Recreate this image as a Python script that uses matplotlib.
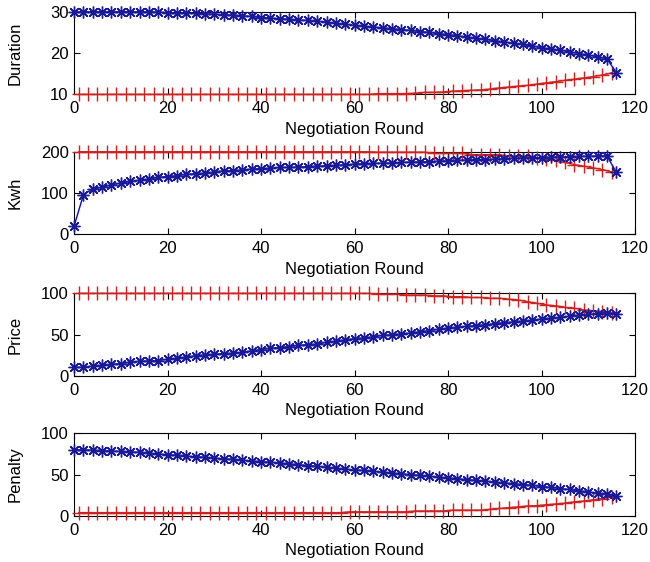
import matplotlib
matplotlib.use("Agg")
import matplotlib.pyplot as plt
import numpy as np

plt.rcParams['font.family'] = ['Liberation Sans', 'DejaVu Sans']

# Rounds: blue (consumer) offers on even rounds, red (provider) on odd rounds
blue_rounds = list(range(0, 115, 2)) + [116]
red_rounds = list(range(1, 116, 2))

duration_blue = [30, 30, 30, 30, 30, 30, 30, 30, 30, 29.9, 29.8, 29.7, 29.7, 29.6, 29.5,
                 29.4, 29.3, 29.2, 29.0, 28.9, 28.6, 28.5, 28.3, 28.2, 28.0, 27.9, 27.7,
                 27.5, 27.2, 27.0, 26.7, 26.5, 26.3, 26.1, 25.9, 25.7, 25.5, 25.2, 25.0,
                 24.7, 24.5, 24.2, 23.9, 23.6, 23.3, 23.0, 22.7, 22.4, 22.1, 21.7, 21.3,
                 21.0, 20.7, 20.3, 19.9, 19.5, 19.1, 18.6, 15.3]
duration_red = [10] * 32 + [10.2, 10.2, 10.2, 10.2, 10.3, 10.5, 10.5, 10.6, 10.8, 10.9,
                            11.0, 11.1, 11.3, 11.6, 11.8, 12.0, 12.2, 12.5, 12.8, 13.1,
                            13.4, 13.7, 14.0, 14.3, 14.7, 15.2]

kwh_blue = [20, 96, 110, 114, 120, 124, 128, 131, 134, 138, 140, 142, 145, 147, 148, 151,
            154, 154, 156, 158, 159, 160, 162, 162, 163, 164, 165, 166, 167, 168, 170,
            171, 172, 172, 173, 174, 175, 175, 176, 177, 178, 179, 180, 181, 181, 182,
            183, 184, 185, 185, 186, 187, 187, 188, 189, 189, 190, 190, 150]
kwh_red = [200] * 32 + [199, 199, 199, 199, 199, 199, 196, 196, 196, 196, 193, 193, 193,
                        193, 189, 189, 189, 186, 183, 179, 174, 169, 165, 161, 157, 151]

price_blue = [10.5, 10.5, 12, 13, 14.2, 15, 16.6, 17.8, 18.2, 18.6, 20.2, 21.5, 23, 24.5,
              25.5, 26.3, 27.1, 27.5, 28.7, 30.4, 32, 33.5, 34.4, 35.6, 37, 38, 38.5, 40.9,
              42.1, 43.7, 45.3, 46, 47.5, 49, 50, 51, 52, 53.5, 55, 56.5, 58, 59, 60, 61,
              62, 63.5, 64.5, 65.5, 66.5, 67.5, 69, 70, 71, 72.5, 73.5, 74.5, 75.5, 76.5, 75]
price_red = [100] * 32 + [99, 99, 99, 98, 98, 98, 97, 97, 96, 96, 95, 95, 94, 94, 93,
                          92, 90, 88, 86, 85, 83, 82, 80, 79, 78, 76]

penalty_blue = [80, 80, 79.5, 79, 78.5, 78, 77.5, 77, 76, 75, 74, 73.5, 72.5, 71.5, 71,
                70, 69, 68.5, 67.5, 66.5, 65.5, 65, 64, 63, 62, 61, 60, 59, 57.5, 56.5,
                55.5, 55, 54, 53, 52, 51, 50, 49, 48, 47, 46, 45, 44, 43, 42, 41, 40, 39,
                38, 37, 35.5, 34.5, 33, 32, 30.5, 29, 27.5, 26, 24]
penalty_red = [4] * 29 + [5, 5, 5, 5, 5, 5, 5, 6, 6, 6, 6, 7, 7, 7, 7, 8, 9, 10, 11,
                          12, 12.5, 13.5, 14.5, 15.5, 17, 18, 19.5, 21, 23]

panels = [
    ("Duration", duration_blue, duration_red, (10, 30), [10, 20, 30]),
    ("Kwh", kwh_blue, kwh_red, (0, 200), [0, 100, 200]),
    ("Price", price_blue, price_red, (0, 100), [0, 50, 100]),
    ("Penalty", penalty_blue, penalty_red, (0, 100), [0, 50, 100]),
]

fig = plt.figure(figsize=(6.5, 5.62), dpi=100)
left, width = 0.114, 0.863
tops = [0.979, 0.730, 0.478, 0.229]
height = 0.147

for (label, yb, yr, ylim, yticks), top in zip(panels, tops):
    ax = fig.add_axes([left, top - height, width, height])
    ax.plot(red_rounds, yr, '-', color='#cc2222', lw=1.0, marker='+', ms=9.5,
            mew=1.0, clip_on=False, zorder=3)
    ax.plot(blue_rounds, yb, '-', color='#0a0ac8', lw=1.0, marker=(8, 2, 0), ms=8.5,
            mew=1.0, mec='#1a1a96', clip_on=False, zorder=4)
    ax.set_xlim(0, 120)
    ax.set_ylim(*ylim)
    ax.set_xticks(range(0, 121, 20))
    ax.set_yticks(yticks)
    ax.tick_params(direction='in', top=True, right=True, labelsize=12, length=4)
    ax.tick_params(axis='x', pad=5)
    ax.tick_params(axis='y', pad=4)
    ax.set_xlabel("Negotiation Round", fontsize=12, labelpad=4)
    ax.set_ylabel(label, fontsize=12)
    ax.yaxis.set_label_coords(-0.092, 0.5)
    for s in ax.spines.values():
        s.set_linewidth(0.8)

fig.savefig("out.png", dpi=100)
